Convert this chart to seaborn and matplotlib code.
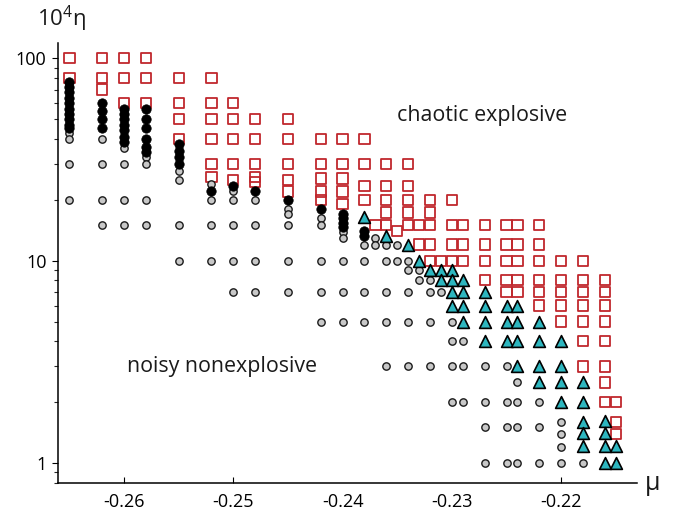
import matplotlib
matplotlib.use("Agg")
import matplotlib.pyplot as plt
import matplotlib.ticker as mticker
import seaborn as sns
import pandas as pd

# Phase diagram points, keyed by mu -> list of 10^4 eta values
chaotic_sq = {
    -0.265: [100, 80],
    -0.262: [100, 80, 70],
    -0.260: [100, 80, 60],
    -0.258: [100, 80, 60],
    -0.255: [80, 60, 50, 40],
    -0.252: [80, 60, 50, 40, 30, 26],
    -0.250: [60, 50, 40, 30, 25],
    -0.248: [50, 40, 30, 26, 24.5],
    -0.245: [50, 40, 30, 25, 22],
    -0.242: [40, 30, 25.5, 22, 20],
    -0.240: [40, 30, 25.5, 22, 19],
    -0.238: [40, 30, 23.4, 20],
    -0.237: [15],
    -0.236: [30, 23.4, 20, 17.3, 15],
    -0.235: [14],
    -0.234: [30, 23.4, 20, 17.3, 15],
    -0.233: [15, 12],
    -0.232: [20, 17.3, 15, 12, 10],
    -0.231: [10],
    -0.230: [20, 15, 12, 10],
    -0.229: [15, 12, 10],
    -0.227: [15, 12, 10, 8],
    -0.225: [15, 12, 10, 8, 7],
    -0.224: [15, 12, 10, 8, 7],
    -0.222: [15, 12, 10, 8, 7, 6],
    -0.220: [10, 8, 7, 6, 5],
    -0.218: [10, 8, 7, 6, 5, 4, 3],
    -0.216: [8, 7, 6, 5, 4, 3, 2.5, 2],
    -0.215: [2, 1.6, 1.39],
}

black_dots = {
    -0.265: [76, 72, 68, 64, 60, 56, 53, 50, 47, 45],
    -0.262: [60, 55, 50, 45],
    -0.260: [56, 53, 50, 47, 44, 41, 38.5],
    -0.258: [56, 50, 45, 40, 36.5, 34.5],
    -0.255: [37.6, 35, 32.6, 30],
    -0.252: [22],
    -0.250: [23.5],
    -0.248: [22],
    -0.245: [20],
    -0.242: [18],
    -0.240: [17, 16.2, 15.3, 14.7],
    -0.238: [14, 13.2],
}

noisy_gray = {
    -0.265: [42.5, 40, 30, 20],
    -0.262: [40, 30, 20, 15],
    -0.260: [36, 30, 20, 15],
    -0.258: [32.5, 30, 20, 15],
    -0.255: [27.8, 25, 15, 10],
    -0.252: [24, 20, 15, 10],
    -0.250: [22, 20, 15, 10, 7],
    -0.248: [20, 15, 10, 7],
    -0.245: [18, 17, 15, 10, 7],
    -0.242: [16.2, 15, 10, 7, 5],
    -0.240: [13.9, 12.9, 10, 7, 5],
    -0.238: [12, 10, 7, 5],
    -0.237: [13, 12],
    -0.236: [12, 10, 7, 5, 3],
    -0.235: [12, 10],
    -0.234: [10, 9, 7, 5, 3],
    -0.233: [9, 8],
    -0.232: [8, 7, 5, 3],
    -0.231: [7],
    -0.230: [5, 4, 3, 2],
    -0.229: [4, 3, 2],
    -0.227: [3, 2, 1.5, 1],
    -0.225: [3, 2, 1.5, 1],
    -0.224: [2.5, 2, 1.5, 1],
    -0.222: [2, 1.5, 1],
    -0.220: [1.6, 1.39, 1.2, 1],
    -0.218: [1],
}

triangles = {
    -0.238: [16.4],
    -0.236: [13.3],
    -0.234: [12],
    -0.233: [10],
    -0.232: [9],
    -0.231: [9, 8],
    -0.230: [9, 8, 7, 6],
    -0.229: [8, 7, 6, 5],
    -0.227: [7, 6, 5, 4],
    -0.225: [6, 5, 4],
    -0.224: [6, 5, 4, 3],
    -0.222: [5, 4, 3, 2.5],
    -0.220: [4, 3, 2.5, 2],
    -0.218: [2.5, 2, 1.6, 1.41, 1.21],
    -0.216: [1.62, 1.41, 1.21, 1.0],
    -0.215: [1.21, 1.0],
}

x_ticks = [-0.26, -0.25, -0.24, -0.23, -0.22]
x_labels = ['-0.26', '-0.25', '-0.24', '-0.23', '-0.22']
y_ticks = [1, 10, 100]
y_labels = ['1', '10', '100']


def to_frame(points):
    rows = [(mu, eta) for mu, etas in points.items() for eta in etas]
    return pd.DataFrame(rows, columns=['mu', 'eta'])


sns.set_theme(style='ticks')
plt.rcParams['font.family'] = ['Open Sans', 'DejaVu Sans']
plt.rcParams['mathtext.fontset'] = 'custom'
plt.rcParams['mathtext.rm'] = 'Open Sans'
plt.rcParams['mathtext.it'] = 'Open Sans'

fig = plt.figure(figsize=(6.84, 5.13), dpi=100)
W, H = 684, 513
ax = fig.add_axes([58 / W, (H - 483.3) / H, (636.7 - 58) / W, (483.3 - 43) / H])
ax.set_facecolor('white')

red = '#c0272d'
sns.scatterplot(data=to_frame(chaotic_sq), x='mu', y='eta', ax=ax, marker='s', s=55,
                facecolor='none', edgecolor=red, linewidth=1.3, zorder=2)
sns.scatterplot(data=to_frame(noisy_gray), x='mu', y='eta', ax=ax, marker='o', s=28,
                color='#c8c8c8', edgecolor='#1a1a1a', linewidth=1.0, zorder=3)
sns.scatterplot(data=to_frame(black_dots), x='mu', y='eta', ax=ax, marker='o', s=46,
                color='black', edgecolor='black', linewidth=0.5, zorder=4)
sns.scatterplot(data=to_frame(triangles), x='mu', y='eta', ax=ax, marker='^', s=72,
                color='#2db6bf', edgecolor='black', linewidth=1.2, zorder=5)

ax.set_yscale('log')
ax.set_xlim(-0.26604, -0.21309)
ax.set_ylim(0.794, 119)
ax.set_xlabel('')
ax.set_ylabel('')

ax.set_xticks(x_ticks)
ax.set_xticklabels(x_labels)
ax.set_yticks(y_ticks)
ax.set_yticklabels(y_labels)
ax.yaxis.set_minor_locator(mticker.LogLocator(base=10, subs=range(2, 10)))
ax.yaxis.set_minor_formatter(mticker.NullFormatter())

ax.tick_params(axis='x', direction='in', length=4.3, width=0.8, pad=7,
               labelsize=13, colors='black')
ax.tick_params(axis='y', which='major', direction='out', length=4.3, width=0.8,
               pad=4, labelsize=13, colors='black')
ax.tick_params(axis='y', which='minor', direction='out', length=2.6, width=0.8)
ax.xaxis.get_major_ticks()[2].tick1line.set_visible(False)
ax.xaxis.get_major_ticks()[3].tick1line.set_visible(False)

sns.despine(ax=ax)
for side in ['left', 'bottom']:
    ax.spines[side].set_color('black')
    ax.spines[side].set_linewidth(1.1)

ax.text(-0.22725, 52.4, 'chaotic explosive', ha='center', va='center',
        fontsize=15.4, color='#1a1a1a')
ax.text(-0.25108, 3.0, 'noisy nonexplosive', ha='center', va='center',
        fontsize=15.4, color='#1a1a1a')

fig.text(37 / W, 1 - 26 / H, r'$\mathregular{10^4\eta}$', ha='left', va='baseline',
         fontsize=16, color='#1a1a1a')
fig.text(653 / W, 1 - 484 / H, 'μ', ha='center', va='center', fontsize=18,
         color='#1a1a1a')

fig.savefig('out.png', dpi=100)
